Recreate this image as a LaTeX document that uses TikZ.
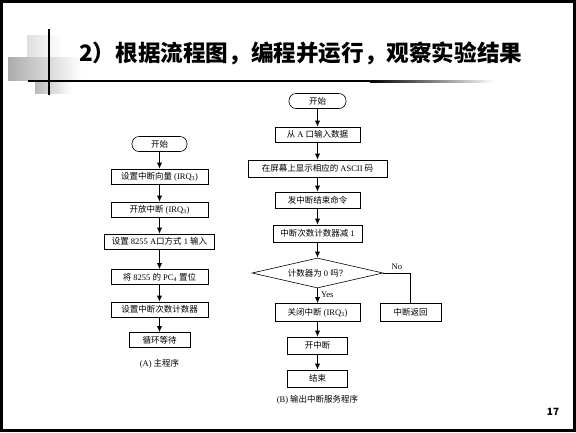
\documentclass[tikz,border=0pt]{standalone}
\usepackage{fontspec}
\setmainfont{Liberation Serif}
\newfontfamily\cjk{Noto Sans CJK SC}
\usetikzlibrary{arrows, arrows.meta}
\usetikzlibrary{positioning, shapes.geometric}
\newcommand{\zh}[1]{{\cjk #1}}
\tikzset{
  stepbox/.style={draw, line width=0.6pt, minimum height=15pt, inner sep=1pt, font=\fontsize{8.5}{10}\selectfont},
  startbox/.style={stepbox, rounded corners=7pt},
  flow/.style={-{Latex[length=6pt,width=5pt]}, line width=0.7pt},
  caption/.style={font=\fontsize{8.5}{10}\selectfont}
}
\begin{document}
\begin{tikzpicture}[x=1pt, y=-1pt]
  \useasboundingbox (0,0) rectangle (576,432);
  \fill[white] (0,0) rectangle (576,432);
  \draw[line width=3pt] (1.5,1.5) rectangle (574.5,430.5);

  \shade[left color=gray!25, right color=white] (27,35) rectangle (62,57);
  \shade[left color=gray!65, right color=white] (8,57) rectangle (82,80);
  \shade[left color=gray!55, right color=white] (35,82) rectangle (72,93);
  \draw[line width=2pt] (28,81) -- (370,81);
  \shade[left color=black, right color=white] (370,80) rectangle (495,82);
  \draw[line width=1.6pt] (49,29) -- (49,95);
  \node[anchor=west, inner sep=0pt, font=\cjk\bfseries\fontsize{22.6}{24}\selectfont] (title) at (79,53) {2）根据流程图，编程并运行，观察实验结果};
  \node[font=\cjk\bfseries\fontsize{10}{12}\selectfont] (page) at (553,412) {17};

  \def\ax{159.5}
  \node[startbox, minimum width=55pt] (astart) at (\ax,144) {\zh{开始}};
  \node[stepbox, minimum width=97pt] (avec) at (\ax,176.5) {\zh{设置中断向量} (IRQ\textsubscript{3})};
  \node[stepbox, minimum width=97pt] (aena) at (\ax,209.5) {\zh{开放中断} (IRQ\textsubscript{3})};
  \node[stepbox, minimum width=110pt] (amode) at (\ax,241.5) {\zh{设置} 8255 A\zh{口方式} 1 \zh{输入}};
  \node[stepbox, minimum width=97pt] (apc) at (\ax,277) {\zh{将} 8255 \zh{的} PC\textsubscript{4} \zh{置位}};
  \node[stepbox, minimum width=97pt] (acnt) at (\ax,309.5) {\zh{设置中断次数计数器}};
  \node[stepbox, minimum width=61pt] (await) at (\ax,340) {\zh{循环等待}};
  \node[caption] (acap) at (\ax,364) {(A) \zh{主程序}};

  \draw[flow] (astart)--(avec);
  \draw[flow] (avec)--(aena);
  \draw[flow] (aena)--(amode);
  \draw[flow] (amode)--(apc);
  \draw[flow] (apc)--(acnt);
  \draw[flow] (acnt)--(await);

  \def\bx{317.5}
  \node[startbox, minimum width=57pt] (bstart) at (\bx,101) {\zh{开始}};
  \node[stepbox, minimum width=85pt] (bin) at (\bx,134.5) {\zh{从} A \zh{口输入数据}};
  \node[stepbox, minimum width=139pt, minimum height=17pt] (bshow) at (\bx,168.5) {\zh{在屏幕上显示相应的} ASCII \zh{码}};
  \node[stepbox, minimum width=85pt, minimum height=16pt] (beoi) at (\bx,200) {\zh{发中断结束命令}};
  \node[stepbox, minimum width=89pt, minimum height=17pt] (bdec) at (\bx,233.5) {\zh{中断次数计数器减} 1};
  \node[draw, line width=0.6pt, diamond, aspect=4.4, minimum width=131pt, minimum height=30pt, inner sep=0pt, font=\fontsize{8.5}{10}\selectfont] (bzero) at (\bx,273) {\zh{计数器为} 0 \zh{吗？}};
  \node[stepbox, minimum width=85pt, minimum height=18pt] (boff) at (\bx,312.5) {\zh{关闭中断} (IRQ\textsubscript{3})};
  \node[stepbox, minimum width=60pt, minimum height=17pt] (bon) at (\bx,345.5) {\zh{开中断}};
  \node[stepbox, minimum width=60pt, minimum height=17pt] (bend) at (\bx,378.5) {\zh{结束}};
  \node[stepbox, minimum width=61pt, minimum height=18pt] (bret) at (410.5,312) {\zh{中断返回}};
  \node[caption] (bcap) at (\bx,400) {(B) \zh{输出中断服务程序}};

  \draw[flow] (bstart)--(bin);
  \draw[flow] (bin)--(bshow);
  \draw[flow] (bshow)--(beoi);
  \draw[flow] (beoi)--(bdec);
  \draw[flow] (bdec)--(bzero);
  \draw[flow] (bzero)--(boff) node[pos=0.4, right, font=\fontsize{8.5}{10}\selectfont] {Yes};
  \draw[line width=0.6pt] (bzero.east) -| (bret.north) node[pos=0.25, above, font=\fontsize{8.5}{10}\selectfont] {No};
  \draw[flow] (boff)--(bon);
  \draw[flow] (bon)--(bend);
\end{tikzpicture}
\end{document}
